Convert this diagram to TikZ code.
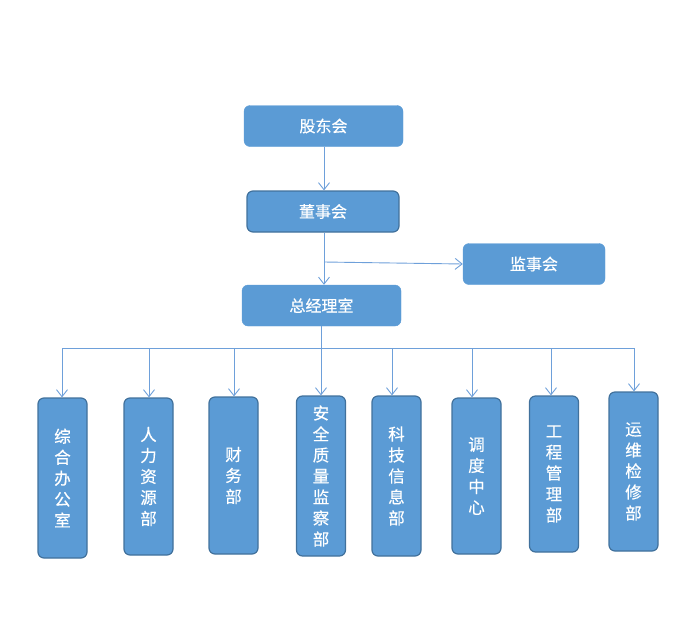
\documentclass[tikz,border=0pt]{standalone}
\usepackage{fontspec}
\newfontfamily\cjk[FakeBold=0.4]{Noto Sans CJK SC}
\usetikzlibrary{arrows.meta}
\definecolor{boxfill}{RGB}{91,155,213}
\definecolor{boxline}{RGB}{65,113,156}
\definecolor{linkline}{RGB}{110,160,218}
\begin{document}
\begin{tikzpicture}[x=1pt, y=-1pt, every node/.style={align=center}]
\tikzset{
  topbox/.style={fill=boxfill, draw=boxfill, rounded corners=6pt, text=white,
    font=\cjk\fontsize{16}{18}\selectfont, minimum height=41pt, inner sep=0pt},
  deptbox/.style={fill=boxfill, draw=boxline, line width=1.2pt, rounded corners=6pt, text=white,
    font=\cjk\fontsize{16.5}{21}\selectfont, minimum width=49pt, inner sep=0pt},
  link/.style={draw=linkline, line width=0.9pt},
  linkarrow/.style={link, -{Straight Barb[length=7pt, width=11pt, line width=0.9pt]}}
}
\useasboundingbox (0,0) rectangle (690,632);
% upper levels
\node[topbox, minimum width=159pt] (gudong) at (323.5,126) {股东会};
\node[topbox, draw=boxline, line width=1.2pt, minimum width=152pt] (dongshi) at (323,211.5) {董事会};
\node[topbox, minimum width=142pt] (jianshi) at (534,264) {监事会};
\node[topbox, minimum width=159pt] (zongjingli) at (321.5,305.5) {总经理室};
\coordinate (fork) at (324,262);
\draw[linkarrow] (gudong.south -| 324,0) -- (dongshi.north -| 324,0);
\draw[linkarrow] (dongshi.south -| 324,0) -- (zongjingli.north -| 324,0);
\draw[linkarrow] (fork) -- (jianshi.west);
% departments
\node[deptbox, minimum height=160pt] (d1) at (62.5,478) {综\\合\\办\\公\\室};
\node[deptbox, minimum height=157pt] (d2) at (148.5,476.5) {人\\力\\资\\源\\部};
\node[deptbox, minimum height=157pt] (d3) at (233.5,475.5) {财\\务\\部};
\node[deptbox, minimum height=160pt] (d4) at (321,476) {安\\全\\质\\量\\监\\察\\部};
\node[deptbox, minimum height=160pt] (d5) at (396.5,476) {科\\技\\信\\息\\部};
\node[deptbox, minimum height=156pt] (d6) at (476.5,476) {调\\度\\中\\心};
\node[deptbox, minimum height=156pt] (d7) at (554,474) {工\\程\\管\\理\\部};
\node[deptbox, minimum height=159pt] (d8) at (633.5,471.5) {运\\维\\检\\修\\部};
% bus
\coordinate (busL) at (62,348);
\coordinate (busR) at (634,348);
\draw[link] (zongjingli.south -| 321,0) -- (321,348);
\draw[link] (busL) -- (busR);
\foreach \n/\x in {1/62,2/149,3/234,4/321,5/392,6/472,7/551,8/634}{
  \coordinate (b\n) at (\x,348);
  \draw[linkarrow] (b\n) -- (b\n |- d\n.north);
}
\end{tikzpicture}
\end{document}
